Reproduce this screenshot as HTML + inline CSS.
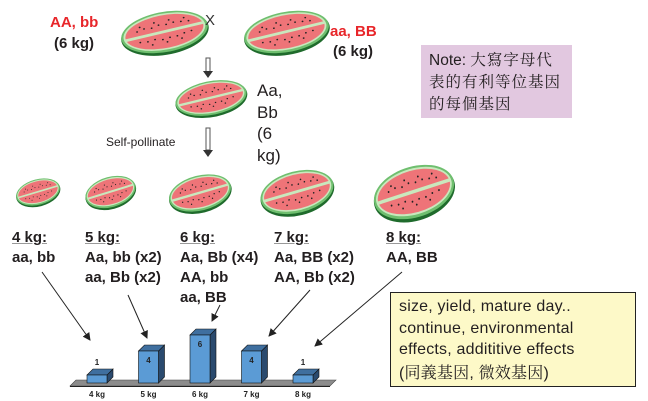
<!DOCTYPE html>
<html><head><meta charset="utf-8"><style>
body{margin:0;background:#fff;}
#wrap{position:relative;width:648px;height:401px;overflow:hidden;font-family:"Liberation Sans","Noto Sans CJK TC",sans-serif;}
.t{position:absolute;white-space:nowrap;}
.b{font-weight:bold;color:#231f20;font-size:15px;line-height:20px;}
.red{color:#e8262a;font-weight:bold;font-size:15px;}
.u{text-decoration:underline;text-decoration-color:#999;}
</style></head><body>
<div id="wrap">
<svg width="648" height="401" style="position:absolute;left:0;top:0">
<defs>
<symbol id="wm" viewBox="-50 -32 100 64" preserveAspectRatio="none">
<g transform="rotate(-14)">
<ellipse cx="0" cy="2" rx="47" ry="27" fill="#1f6b2c"/>
<ellipse cx="0" cy="0" rx="46.5" ry="25.5" fill="#6fbf6f"/>
<ellipse cx="0" cy="-0.5" rx="44" ry="23" fill="#c9e8bd"/>
<ellipse cx="0" cy="-0.5" rx="42" ry="21" fill="#ee7478"/>
<line x1="-43" y1="1" x2="43" y2="-2" stroke="#c9e8bd" stroke-width="3.5"/>
<g fill="#222">
<circle cx="-28" cy="-7" r="1"/><circle cx="-20" cy="-9" r="1"/><circle cx="-12" cy="-8" r="1"/><circle cx="-4" cy="-10" r="1"/><circle cx="4" cy="-9" r="1"/><circle cx="12" cy="-10" r="1"/><circle cx="20" cy="-9" r="1"/><circle cx="28" cy="-8" r="1"/>
<circle cx="-24" cy="-12" r="1"/><circle cx="-8" cy="-14" r="1"/><circle cx="8" cy="-14" r="1"/><circle cx="24" cy="-13" r="1"/>
<circle cx="-28" cy="7" r="1"/><circle cx="-20" cy="8" r="1"/><circle cx="-12" cy="7" r="1"/><circle cx="-4" cy="9" r="1"/><circle cx="4" cy="8" r="1"/><circle cx="12" cy="8" r="1"/><circle cx="20" cy="6" r="1"/><circle cx="28" cy="5" r="1"/>
<circle cx="-16" cy="13" r="1"/><circle cx="0" cy="13" r="1"/><circle cx="16" cy="12" r="1"/>
</g></g>
</symbol>
<marker id="ah" markerWidth="8" markerHeight="8" refX="7" refY="4" orient="auto"><path d="M0,0 L8,4 L0,8 Z" fill="#222"/></marker>
</defs>
<use href="#wm" x="117" y="7" width="95" height="50"/>
<use href="#wm" x="240" y="7" width="93" height="50"/>
<use href="#wm" x="172" y="77" width="78" height="42"/>
<use href="#wm" x="14" y="176" width="48" height="32"/>
<use href="#wm" x="83" y="173" width="55" height="38"/>
<use href="#wm" x="166" y="171" width="68" height="44"/>
<use href="#wm" x="257" y="166" width="80" height="52"/>
<use href="#wm" x="370" y="160" width="88" height="64"/>
<g><rect x="206" y="58" width="4" height="14" fill="#fff" stroke="#555"/><path d="M203,71 L213,71 L208,78 Z" fill="#333"/></g>
<g><rect x="206" y="128" width="4" height="22" fill="#fff" stroke="#555"/><path d="M203,150 L213,150 L208,157 Z" fill="#333"/></g>
<g stroke="#222" stroke-width="1" marker-end="url(#ah)">
<line x1="42" y1="272" x2="90" y2="340"/>
<line x1="128" y1="295" x2="147" y2="338"/>
<line x1="220" y1="305" x2="212" y2="321"/>
<line x1="310" y1="290" x2="269" y2="336"/>
<line x1="402" y1="272" x2="315" y2="346"/>
</g>
<g id="chart"></g>
</svg>

<div class="t red" style="left:50px;top:14px">AA, bb</div>
<div class="t b" style="left:54px;top:34px">(6 kg)</div>
<div class="t" style="left:205px;top:12px;font-size:15px;color:#333">X</div>
<div class="t red" style="left:330px;top:23px">aa, BB</div>
<div class="t b" style="left:333px;top:42px">(6 kg)</div>
<div class="t" style="left:257px;top:80px;font-size:17px;line-height:21.5px;color:#231f20;white-space:normal;width:40px">Aa,<br>Bb<br>(6<br>kg)</div>
<div class="t" style="left:106px;top:135px;font-size:12px;color:#231f20">Self-pollinate</div>
<div style="position:absolute;left:421px;top:45px;width:151px;height:73px;background:#e2c8e0;box-sizing:border-box;padding:4px 0 0 8px;font-size:15.5px;line-height:21px;color:#231f20;font-family:'Liberation Sans','Noto Serif CJK SC',serif">Note: <span style="font-family:'Noto Serif CJK SC',serif;letter-spacing:1px">大寫字母代</span><br><span style="font-family:'Noto Serif CJK SC',serif;letter-spacing:1px">表的有利等位基因<br>的每個基因</span></div>

<div class="t b" style="left:12px;top:228px"><span class="u">4 kg:</span><br>aa, bb</div>
<div class="t b" style="left:85px;top:228px"><span class="u">5 kg:</span><br>Aa, bb (x2)<br>aa, Bb (x2)</div>
<div class="t b" style="left:180px;top:228px"><span class="u">6 kg:</span><br>Aa, Bb (x4)<br>AA, bb<br>aa, BB</div>
<div class="t b" style="left:274px;top:228px"><span class="u">7 kg:</span><br>Aa, BB (x2)<br>AA, Bb (x2)</div>
<div class="t b" style="left:386px;top:228px"><span class="u">8 kg:</span><br>AA, BB</div>

<div style="position:absolute;left:390px;top:292px;width:246px;height:95px;background:#fdf9c8;border:1px solid #222;box-sizing:border-box;padding:3px 0 0 8px;font-size:16px;line-height:21.5px;color:#231f20;font-family:'Liberation Sans','Noto Serif CJK SC',sans-serif;letter-spacing:0.2px">size, yield, mature day..<br>continue, environmental<br>effects, addititive effects<br>(<span style="font-family:'Noto Serif CJK SC',serif">同義基因</span>, <span style="font-family:'Noto Serif CJK SC',serif">微效基因</span>)</div>
</div>
<script>
const categories=["4 kg","5 kg","6 kg","7 kg","8 kg"];
const counts=[1,4,6,4,1];
const labels=["1","4","6","4","1"];
(function(){
const NS="http://www.w3.org/2000/svg";
const g=document.getElementById('chart');
const floorY=383, unit=8, x0=87, step=51.5, bw=20, d=6;
const xPos=i=>x0+i*step;
const yPos=v=>floorY-v*unit;
function mk(tag,attrs){const e=document.createElementNS(NS,tag);for(const k in attrs)e.setAttribute(k,attrs[k]);g.appendChild(e);return e;}
const fl=mk('path',{d:`M70,386 L76,380 L336,380 L330,386 Z`,fill:'#8c8c8c',stroke:'#444','stroke-width':0.6});


const ax=mk('line',{x1:70,y1:386.5,x2:330,y2:386.5,stroke:'#222','stroke-width':1});


categories.forEach((c,i)=>{
  const x=xPos(i), y=yPos(counts[i]), h=floorY-y;
  const side=mk('path',{d:`M${x+bw},${y} L${x+bw+d},${y-d} L${x+bw+d},${floorY-d} L${x+bw},${floorY} Z`,fill:'#2a4a6e',stroke:'#111','stroke-width':0.6});
  
  
  const top=mk('path',{d:`M${x},${y} L${x+d},${y-d} L${x+bw+d},${y-d} L${x+bw},${y} Z`,fill:'#3f6f9f',stroke:'#111','stroke-width':0.6});
  
  
  const r=mk('rect',{x:x,y:y,width:bw,height:h,fill:'#5b9bd5',stroke:'#111','stroke-width':0.6});
  
  
  const inside=h>20;
  const vt=mk('text',{x:x+bw/2,y:inside?y+12:y-10,'text-anchor':'middle','font-size':8,'font-weight':'bold',fill:'#222','font-family':'Liberation Sans, sans-serif'});
  vt.textContent=labels[i];
  
  
  const lt=mk('text',{x:x+bw/2,y:397,'text-anchor':'middle','font-size':8,'font-weight':'bold',fill:'#222','font-family':'Liberation Sans, sans-serif'});
  lt.textContent=c;
  
  
});
})();
</script>
</body></html>
